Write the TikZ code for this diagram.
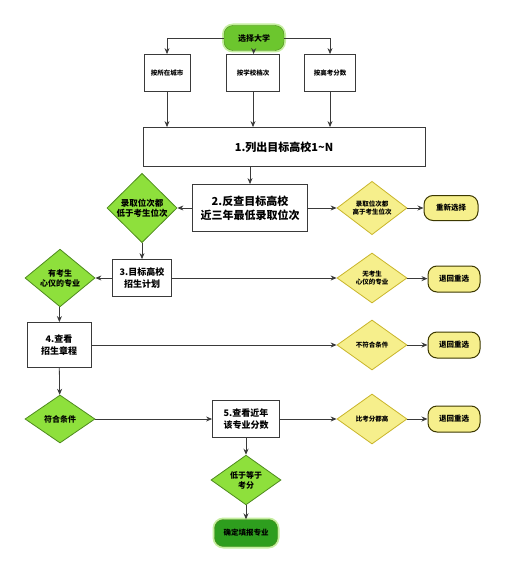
\documentclass[tikz,border=0pt]{standalone}
\usepackage{fontspec}
\setmainfont{Noto Sans CJK SC}
\usetikzlibrary{shapes.geometric,arrows.meta}

\definecolor{linegray}{HTML}{3A3A3A}
\definecolor{limefill}{HTML}{8EE03C}
\definecolor{limeline}{HTML}{4E8A1E}
\definecolor{paleyellow}{HTML}{F6EF8C}
\definecolor{yellowline}{HTML}{C9B52A}
\definecolor{darkolive}{HTML}{3C3800}
\definecolor{startgreen}{HTML}{6CC62E}
\definecolor{endgreen}{HTML}{2E9E1E}
\definecolor{glowgreen}{HTML}{C5EFA0}

\begin{document}
\begin{tikzpicture}[x=1pt,y=-1pt,
    font=\bfseries,
    arr/.style={draw=linegray,line width=0.8pt,-{Stealth[length=6pt,width=5pt]}},
    plainbox/.style={rectangle,draw=linegray,line width=0.8pt,fill=white,align=center,inner sep=2pt},
    yesdiamond/.style={diamond,draw=limeline,line width=0.8pt,fill=limefill,align=center,inner sep=0pt,minimum width=70pt,minimum height=48pt,font=\bfseries\fontsize{8}{10}\selectfont},
    nodiamond/.style={diamond,draw=yellowline,line width=0.8pt,fill=paleyellow,align=center,inner sep=0pt,minimum width=70pt,minimum height=50pt,font=\bfseries\fontsize{6.5}{8}\selectfont},
    backpill/.style={rectangle,rounded corners=9pt,draw=darkolive,line width=1pt,fill=paleyellow,minimum width=52pt,minimum height=26pt,font=\bfseries\fontsize{7.5}{9}\selectfont},
    glowpill/.style={rectangle,rounded corners=9pt,minimum height=25pt,
      preaction={draw=glowgreen,line width=4pt}}]

  \useasboundingbox[fill=white] (0,0) rectangle (512,580);

  % top
  \node[glowpill,fill=startgreen,draw=limeline,minimum width=60pt,font=\bfseries\fontsize{8}{10}\selectfont] (start) at (254,38) {选择大学};
  \node[plainbox,minimum width=46pt,minimum height=37pt,font=\bfseries\fontsize{6.5}{8}\selectfont] (city) at (167,73) {按所在城市};
  \node[plainbox,minimum width=53pt,minimum height=37pt,font=\bfseries\fontsize{6.5}{8}\selectfont] (level) at (253,73) {按学校档次};
  \node[plainbox,minimum width=51pt,minimum height=37pt,font=\bfseries\fontsize{6.5}{8}\selectfont] (score) at (330,73) {按高考分数};

  \node[plainbox,minimum width=282pt,minimum height=39pt,font=\bfseries\fontsize{11}{13}\selectfont] (list) at (284,147) {1.列出目标高校1{\textasciitilde}N};

  % step 2
  \node[plainbox,minimum width=115pt,minimum height=47pt,font=\bfseries\fontsize{11}{14}\selectfont] (rank) at (250,208) {2.反查目标高校\\近三年最低录取位次};
  \node[yesdiamond,minimum width=70pt,font=\bfseries\fontsize{8.5}{10}\selectfont] (lower) at (142,208) {录取位次都\\低于考生位次};
  \node[nodiamond] (higher) at (372,208) {录取位次都\\高于考生位次};
  \node[backpill,minimum width=54pt,minimum height=25pt] (again) at (451,208) {重新选择};

  % step 3
  \node[plainbox,minimum width=59pt,minimum height=37pt,font=\bfseries\fontsize{9}{12}\selectfont] (plan) at (142,278) {3.目标高校\\招生计划};
  \node[yesdiamond,minimum height=50pt] (hasmajor) at (60,278) {有考生\\心仪的专业};
  \node[nodiamond] (nomajor) at (372,278) {无考生\\心仪的专业};
  \node[backpill] (back1) at (454,279) {退回重选};

  % step 4
  \node[plainbox,minimum width=64pt,minimum height=45pt,font=\bfseries\fontsize{9}{12}\selectfont] (rules) at (59,345) {4.查看\\招生章程};
  \node[nodiamond] (notfit) at (372,345) {不符合条件};
  \node[backpill] (back2) at (454,345) {退回重选};
  \node[yesdiamond] (fit) at (60,419) {符合条件};

  % step 5
  \node[plainbox,minimum width=67pt,minimum height=37pt,font=\bfseries\fontsize{9}{12}\selectfont] (marks) at (246,419) {5.查看近年\\该专业分数};
  \node[nodiamond] (toohigh) at (372,419) {比考分都高};
  \node[backpill] (back3) at (454,419) {退回重选};
  \node[yesdiamond,minimum height=49pt] (okscore) at (246,480) {低于等于\\考分};
  \node[glowpill,fill=endgreen,draw=limeline,minimum width=63pt,minimum height=27pt,font=\bfseries\fontsize{7.5}{9}\selectfont] (done) at (246,533) {确定填报专业};

  \draw[arr] (start.west) -| (city.north);
  \draw[arr] (start.east) -| (score.north);
  \draw[arr] (start) -- (level);
  \draw[arr] (city) -- (city |- list.north);
  \draw[arr] (level) -- (level |- list.north);
  \draw[arr] (score) -- (score |- list.north);
  \draw[arr] (rank |- list.south) -- (rank);

  \draw[arr] (rank) -- (lower);
  \draw[arr] (rank) -- (higher);
  \draw[arr] (higher) -- (again);
  \draw[arr] (lower) -- (plan);

  \draw[arr] (plan) -- (hasmajor);
  \draw[arr] (plan) -- (nomajor);
  \draw[arr] (nomajor) -- (back1);
  \draw[arr] (hasmajor) -- (rules);

  \draw[arr] (rules) -- (notfit);
  \draw[arr] (notfit) -- (back2);
  \draw[arr] (rules) -- (fit);

  \draw[arr] (fit) -- (marks);
  \draw[arr] (marks) -- (toohigh);
  \draw[arr] (toohigh) -- (back3);
  \draw[arr] (marks) -- (okscore);
  \draw[arr] (okscore) -- (done);
\end{tikzpicture}
\end{document}
